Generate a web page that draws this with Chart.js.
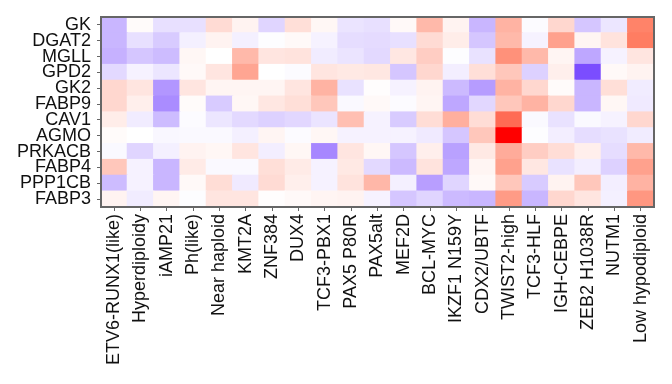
<!DOCTYPE html>
<html>
<head>
<meta charset="utf-8">
<script src="https://cdn.jsdelivr.net/npm/chart.js@4.4.0/dist/chart.umd.min.js"></script>
<style>
  html, body { margin: 0; padding: 0; background: #fff; }
  #wrap { width: 672px; height: 384px; }
</style>
</head>
<body>
<div id="wrap"><canvas id="heatChart" width="672" height="384"></canvas></div>
<script>
// columns (subtypes) and rows (genes), top row first
const subtypes = ['ETV6-RUNX1(like)', 'Hyperdiploidy', 'iAMP21', 'Ph(like)', 'Near haploid',
  'KMT2A', 'ZNF384', 'DUX4', 'TCF3-PBX1', 'PAX5 P80R', 'PAX5alt', 'MEF2D', 'BCL-MYC',
  'IKZF1 N159Y', 'CDX2/UBTF', 'TWIST2-high', 'TCF3-HLF', 'IGH-CEBPE', 'ZEB2 H1038R',
  'NUTM1', 'Low hypodiploid'];
const genes = ['GK', 'DGAT2', 'MGLL', 'GPD2', 'GK2', 'FABP9', 'CAV1', 'AGMO', 'PRKACB', 'FABP4', 'PPP1CB', 'FABP3'];

// scaled expression, -1 (purple) .. 0 (white) .. 1 (red)
const gk     = [-0.35, 0.02, -0.15, -0.15, 0.18, 0.06, -0.2, 0.16, 0.04, -0.13, -0.15, 0.03, 0.35, 0.06, -0.35, 0.38, -0.02, 0.2, -0.27, -0.12, 0.62];
const dgat2  = [-0.35, -0.15, -0.25, -0.07, 0.06, -0.07, -0.01, 0.03, -0.06, -0.16, -0.17, -0.15, 0.18, 0.09, -0.27, 0.35, -0.06, 0.47, 0.05, 0.14, 0.65];
const mgll   = [-0.37, -0.27, -0.32, 0.04, 0, 0.35, 0.13, 0.14, -0.09, -0.13, -0.18, 0.12, 0.25, -0.01, -0.14, 0.55, 0.35, 0.05, -0.42, -0.06, 0.13];
const gpd2   = [-0.18, -0.06, -0.12, 0.03, 0.13, 0.45, 0, -0.02, 0.13, 0.11, 0.12, -0.27, 0.2, -0.08, 0.16, 0.28, -0.22, 0.08, -0.85, 0.03, 0.06];
const gk2    = [0.2, 0.13, -0.5, 0.13, 0.05, 0.05, 0.05, 0.13, 0.38, -0.14, 0.01, -0.06, 0.06, -0.33, -0.47, 0.38, 0.2, 0.02, -0.35, 0.16, -0.09];
const fabp9  = [0.2, 0.08, -0.55, 0.02, -0.25, 0.04, 0.12, 0.16, 0.28, -0.03, 0.03, -0.02, 0.05, -0.42, -0.19, 0.28, 0.38, 0.2, -0.35, 0.04, -0.1];
const cav1   = [0.09, -0.09, -0.32, -0.02, -0.12, -0.18, -0.22, -0.19, -0.13, 0.32, -0.06, -0.25, 0.17, 0.4, 0.17, 0.7, -0.03, -0.14, -0.03, -0.06, 0.2];
const agmo   = [0.02, 0, -0.04, -0.03, -0.03, -0.07, 0.05, -0.02, 0.04, -0.06, -0.06, -0.06, -0.1, -0.27, 0.28, 1.0, -0.01, -0.08, -0.16, -0.14, -0.09];
const prkacb = [-0.03, -0.2, -0.07, 0.06, 0.04, 0.13, -0.08, 0.04, -0.57, 0.13, 0.04, -0.27, 0.08, -0.45, 0.11, 0.42, 0.25, 0.17, 0.08, -0.16, 0.35];
const fabp4  = [0.28, -0.06, -0.35, 0.1, -0.03, -0.03, 0.16, 0.1, -0.06, 0.11, -0.18, -0.33, 0.14, -0.42, 0.05, 0.47, 0.12, -0.14, -0.08, -0.22, 0.47];
const ppp1cb = [-0.32, -0.06, -0.35, 0.03, 0.17, -0.1, 0.18, 0.08, -0.06, 0.14, 0.36, -0.07, -0.46, -0.2, 0.03, 0.28, -0.25, 0.06, 0.28, -0.08, 0.38];
const fabp3  = [0.06, -0.09, 0.05, -0.01, 0.13, 0.13, 0.01, 0.03, 0.05, 0.06, -0.06, -0.27, -0.2, -0.33, -0.35, 0.5, -0.35, 0.2, 0.13, -0.07, 0.52];

const rowValues = [gk, dgat2, mgll, gpd2, gk2, fabp9, cav1, agmo, prkacb, fabp4, ppp1cb, fabp3];

// purple - white - red colour scale
function heatColor(v) {
  if (v < 0) {
    const t = Math.min(1, -v);
    return `rgb(${Math.round(255 - 155 * t)},${Math.round(255 - 210 * t)},255)`;
  }
  const t = Math.min(1, v);
  let g, b;
  if (t <= 0.65) {
    g = 255 - (130 / 0.65) * t;
    b = 255 - (157 / 0.65) * t;
  } else {
    const u = (t - 0.65) / 0.35;
    g = 125 * (1 - u);
    b = 98 * (1 - u);
  }
  return `rgb(255,${Math.round(g)},${Math.round(b)})`;
}

// stacked unit bars, bottom row first
const datasets = rowValues.slice().reverse().map((vals, i) => ({
  label: genes[genes.length - 1 - i],
  data: vals.map(() => 1),
  backgroundColor: vals.map(heatColor),
  borderWidth: 0,
  barPercentage: 1,
  categoryPercentage: 1,
  inflateAmount: 0.6,
  yAxisID: 'y'
}));

const frame = {
  id: 'frame',
  afterDraw(chart) {
    const { ctx, chartArea: a } = chart;
    ctx.save();
    ctx.strokeStyle = '#666';
    ctx.lineWidth = 2;
    ctx.strokeRect(a.left, a.top, a.right - a.left, a.bottom - a.top);
    ctx.restore();
  }
};

const font = { family: "'Liberation Sans', Arial, sans-serif", size: 18 };

new Chart(document.getElementById('heatChart'), {
  type: 'bar',
  data: { labels: subtypes, datasets },
  plugins: [frame],
  options: {
    responsive: false,
    animation: false,
    layout: { padding: { top: 17, right: 18, left: 0, bottom: 0 } },
    plugins: { legend: { display: false }, tooltip: { enabled: false } },
    scales: {
      x: {
        stacked: true,
        offset: true,
        grid: { drawOnChartArea: false, drawTicks: true, tickLength: 4, offset: false, color: '#666' },
        border: { display: false },
        ticks: { minRotation: 90, maxRotation: 90, autoSkip: false, padding: 3, color: '#111', font },
        afterFit(scale) { scale.height = 177; }
      },
      y: {
        type: 'linear',
        stacked: true,
        min: 0,
        max: 12,
        display: false
      },
      rows: {
        type: 'category',
        labels: genes,
        position: 'left',
        offset: true,
        grid: { drawOnChartArea: false, drawTicks: true, tickLength: 4, offset: false, color: '#666' },
        border: { display: false },
        ticks: { autoSkip: false, padding: 6, color: '#111', font },
        afterFit(scale) { scale.width = 101; }
      }
    }
  }
});
</script>
</body>
</html>
